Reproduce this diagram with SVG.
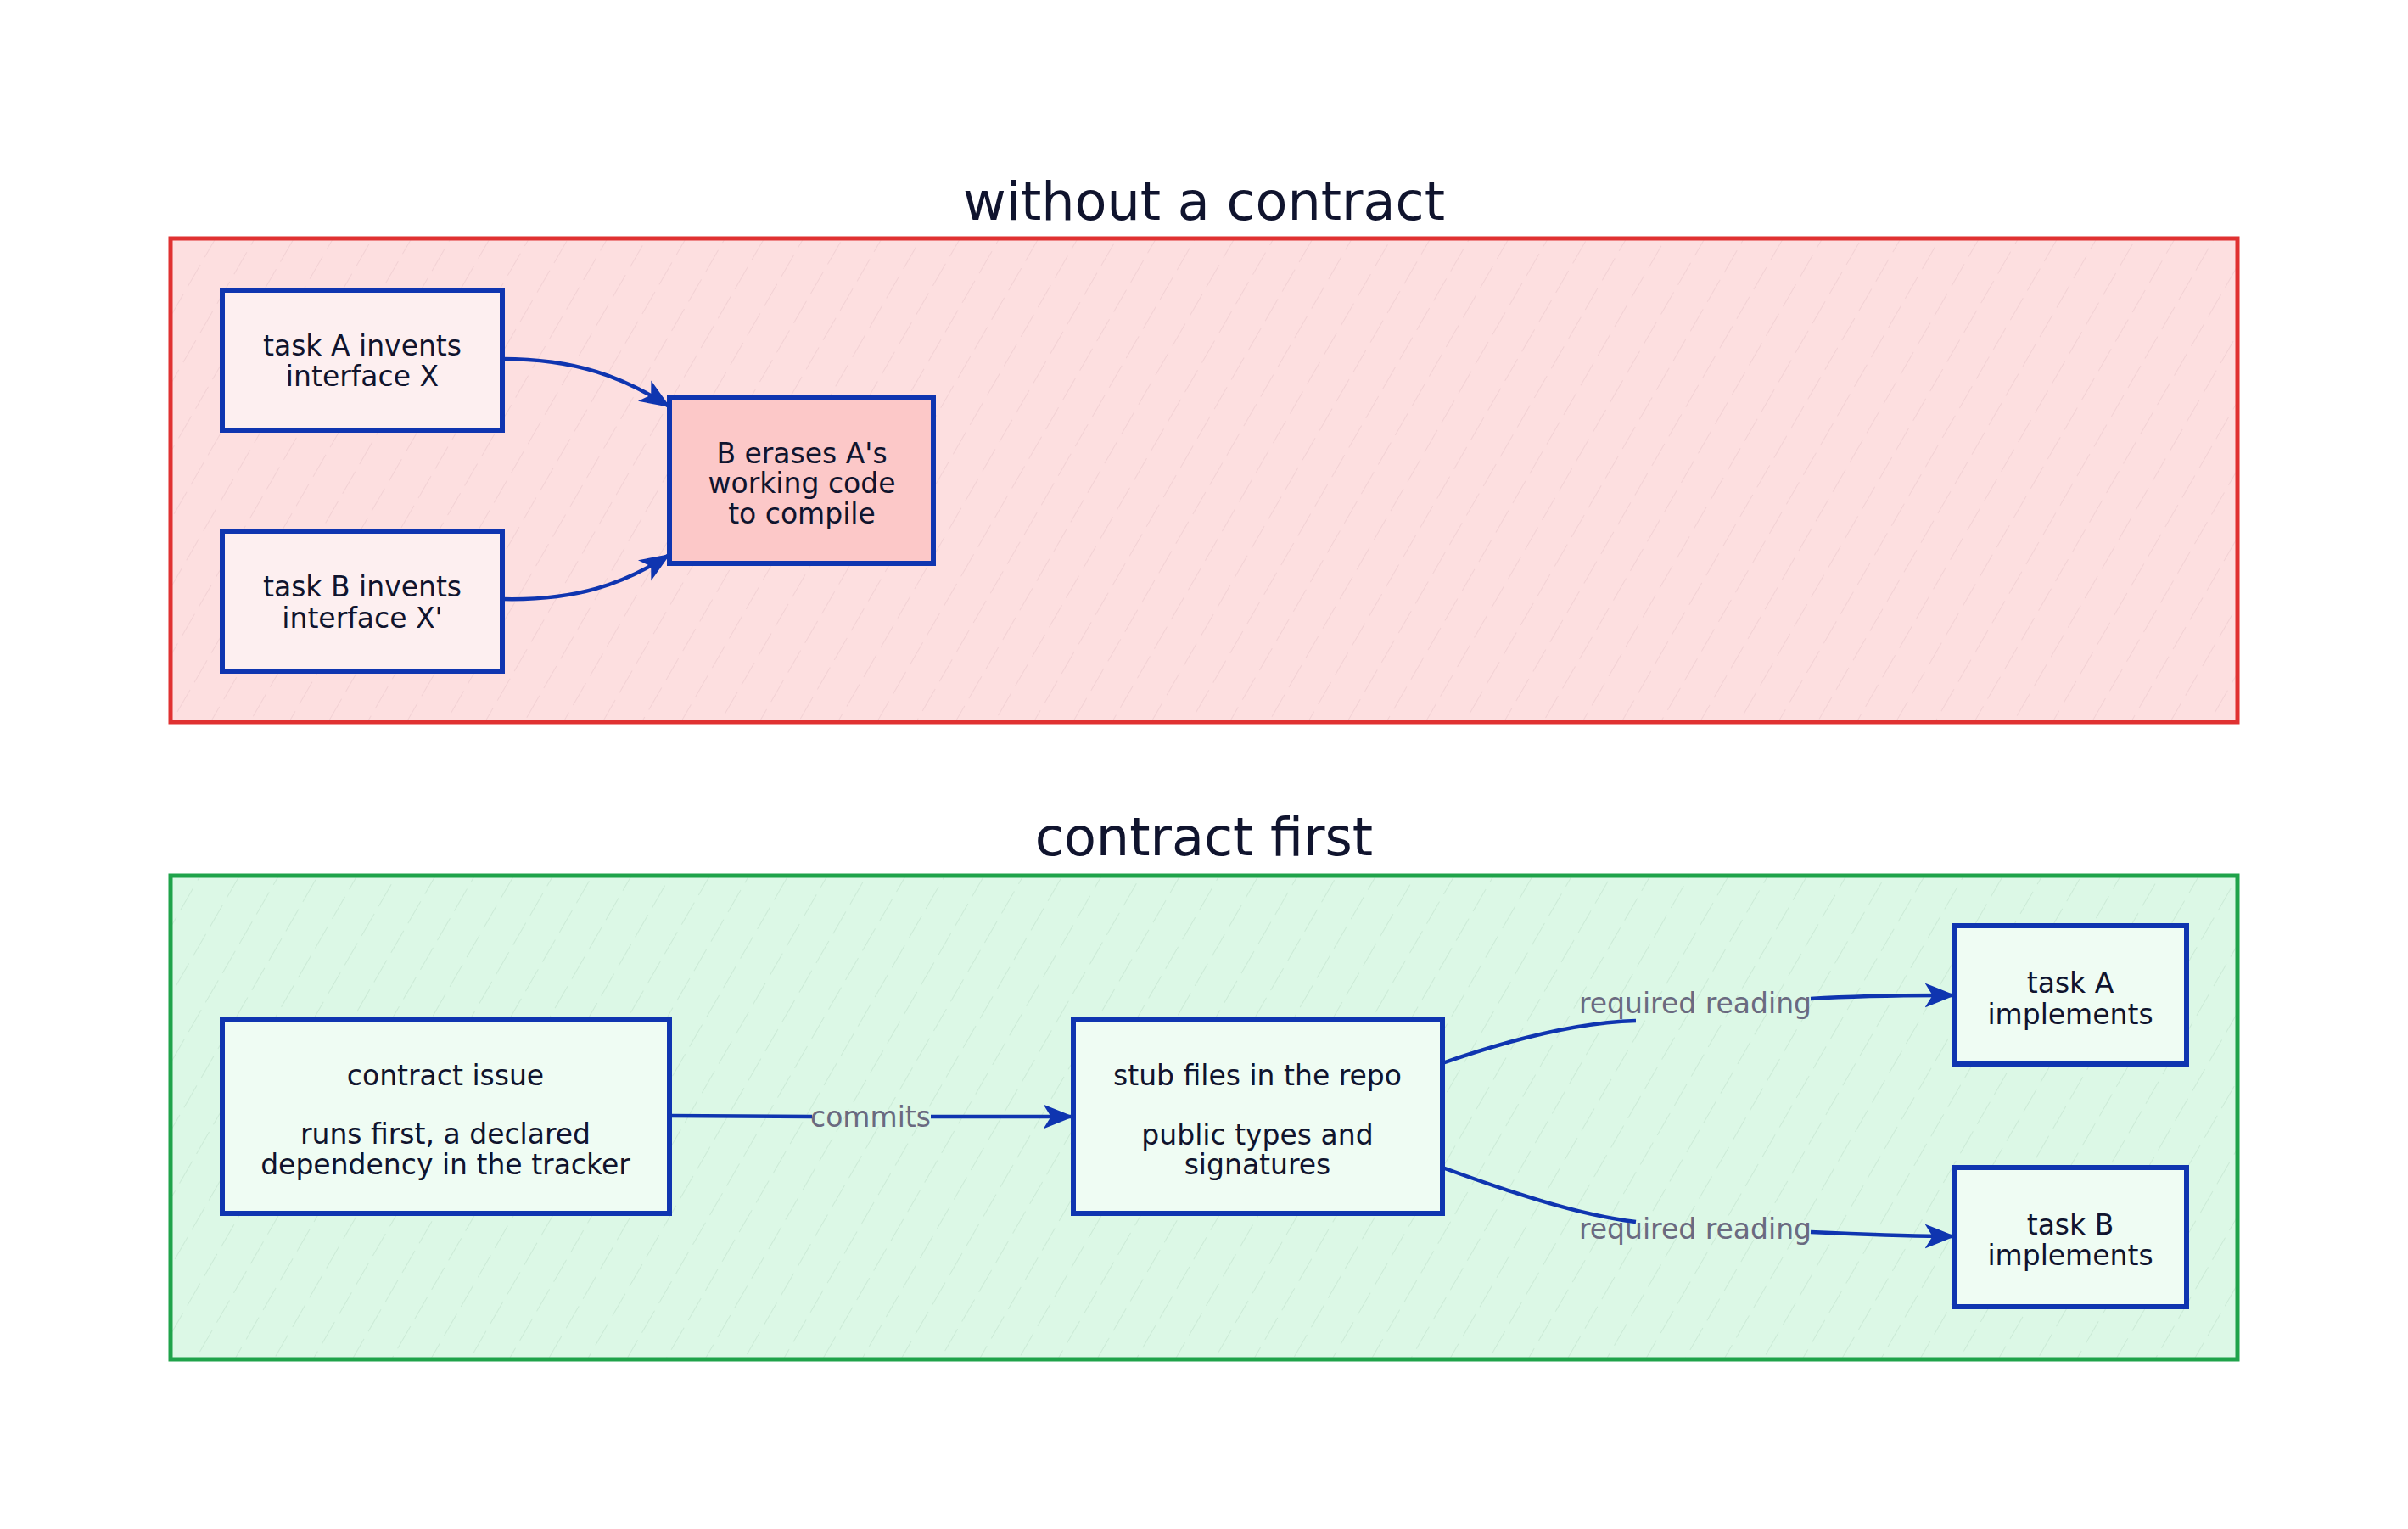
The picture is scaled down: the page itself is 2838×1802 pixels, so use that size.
<svg xmlns="http://www.w3.org/2000/svg" width="2838" height="1802" viewBox="0 0 2838 1802">
<style>
.title{font-family:"DejaVu Sans","Liberation Sans",sans-serif;font-size:62px;fill:#10142e;text-anchor:middle;dominant-baseline:central}
.t{font-family:"DejaVu Sans","Liberation Sans",sans-serif;font-size:33px;fill:#10142e;text-anchor:middle;dominant-baseline:central}
.lbl{font-family:"DejaVu Sans","Liberation Sans",sans-serif;font-size:33px;fill:#6a6a80;text-anchor:middle;dominant-baseline:central}
.node{stroke:#0f35b0;stroke-width:6}
.edge{fill:none;stroke:#0f35b0;stroke-width:4.5}
.arr{marker-end:url(#ah)}
</style>
<defs>
<marker id="ah" viewBox="0 0 20 20" refX="18" refY="10" markerWidth="8" markerHeight="8" markerUnits="strokeWidth" orient="auto">
<path d="M0,2 L20,10 L0,18 L5,10 Z" fill="#0f35b0"/>
</marker>
<pattern id="hr" width="40" height="40" patternUnits="userSpaceOnUse" patternTransform="rotate(30)">
<rect width="40" height="40" fill="#fddfe0"/>
<line x1="0" y1="0" x2="0" y2="40" stroke="#ebc9cc" stroke-width="1.2" stroke-dasharray="22 10"/>
</pattern>
<pattern id="hg" width="40" height="40" patternUnits="userSpaceOnUse" patternTransform="rotate(30)">
<rect width="40" height="40" fill="#dcf8e6"/>
<line x1="0" y1="0" x2="0" y2="40" stroke="#c0e2cc" stroke-width="1.2" stroke-dasharray="22 10"/>
</pattern>
</defs>
<rect width="2838" height="1802" fill="#ffffff"/>

<g id="frame-without">
<text class="title" x="1419" y="237">without a contract</text>
<rect x="201" y="281" width="2436" height="570" fill="url(#hr)" stroke="#e03131" stroke-width="5"/>
</g>
<g id="frame-contract">
<text class="title" x="1419" y="986">contract first</text>
<rect x="201" y="1032" width="2436" height="570" fill="url(#hg)" stroke="#1fa34a" stroke-width="5"/>
</g>

<g id="connectors">
<path class="edge arr" d="M592,423 C680,423 735,445 787,478"/>
<path class="edge arr" d="M592,706 C680,708 735,688 787,655"/>
<path class="edge" d="M789,1315 L957,1316"/>
<path class="edge arr" d="M1097,1316 L1262,1316"/>
<path class="edge" d="M1700,1253 C1780,1225 1860,1205 1928,1203"/>
<path class="edge arr" d="M2134,1177 C2200,1173 2260,1173 2301,1173"/>
<path class="edge" d="M1700,1376 C1780,1405 1860,1432 1928,1440"/>
<path class="edge arr" d="M2134,1452 C2200,1455 2260,1457 2301,1457"/>
<text class="lbl" x="1026" y="1316">commits</text>
<text class="lbl" x="1998" y="1182">required reading</text>
<text class="lbl" x="1998" y="1448">required reading</text>
</g>

<g id="task-a-invents">
<rect class="node" x="262" y="342" width="330" height="165" fill="#fdeff0"/>
<text class="t" x="427" y="407">task A invents</text>
<text class="t" x="427" y="443">interface X</text>
</g>
<g id="task-b-invents">
<rect class="node" x="262" y="626" width="330" height="165" fill="#fdeff0"/>
<text class="t" x="427" y="691">task B invents</text>
<text class="t" x="427" y="728">interface X'</text>
</g>
<g id="b-erases">
<rect class="node" x="789" y="469" width="311" height="195" fill="#fcc8c8"/>
<text class="t" x="945" y="534">B erases A's</text>
<text class="t" x="945" y="569">working code</text>
<text class="t" x="945" y="605">to compile</text>
</g>
<g id="contract-issue">
<rect class="node" x="262" y="1202" width="527" height="228" fill="#effcf3"/>
<text class="t" x="525" y="1267">contract issue</text>
<text class="t" x="525" y="1336">runs first, a declared</text>
<text class="t" x="525" y="1372">dependency in the tracker</text>
</g>
<g id="stub-files">
<rect class="node" x="1265" y="1202" width="435" height="228" fill="#effcf3"/>
<text class="t" x="1482" y="1267">stub files in the repo</text>
<text class="t" x="1482" y="1337">public types and</text>
<text class="t" x="1482" y="1372">signatures</text>
</g>
<g id="task-a-implements">
<rect class="node" x="2304" y="1091" width="273" height="163" fill="#effcf3"/>
<text class="t" x="2440" y="1158">task A</text>
<text class="t" x="2440" y="1195">implements</text>
</g>
<g id="task-b-implements">
<rect class="node" x="2304" y="1376" width="273" height="164" fill="#effcf3"/>
<text class="t" x="2440" y="1443">task B</text>
<text class="t" x="2440" y="1479">implements</text>
</g>
</svg>
